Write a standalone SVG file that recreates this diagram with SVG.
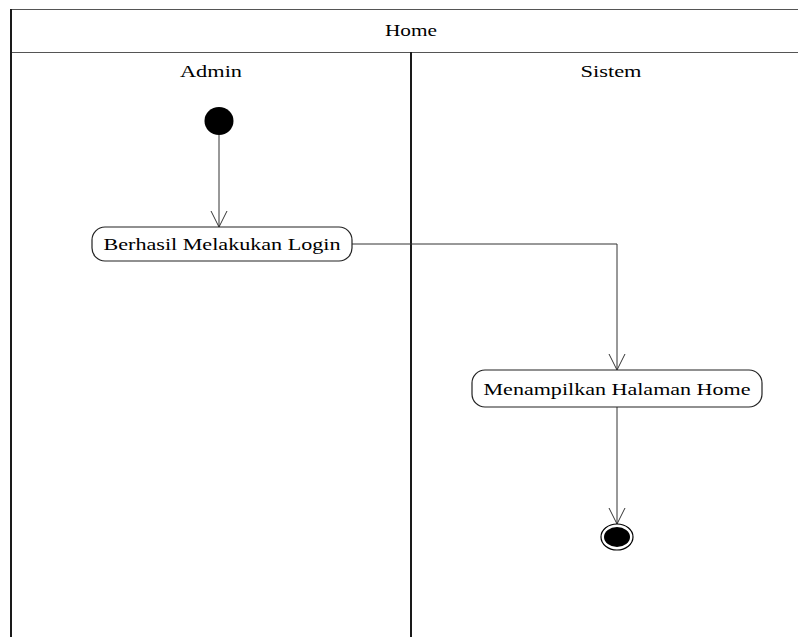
<svg xmlns="http://www.w3.org/2000/svg" width="798" height="637" viewBox="0 0 798 637">
  <style>
    .lbl { font-family: "Liberation Serif", "Times New Roman", serif; font-size: 16px; fill: #000; text-anchor: middle; }
    .frame { stroke: #555; stroke-width: 1.2; fill: none; }
    .lane { stroke: #1a1a1a; stroke-width: 2; fill: none; }
    .act { fill: #fff; stroke: #222; stroke-width: 1.2; }
    .flow { stroke: #333; stroke-width: 1; fill: none; }
  </style>
  <defs>
    <!-- open "V" arrowhead, tip at the end of the path -->
    <marker id="open" markerUnits="userSpaceOnUse" markerWidth="20" markerHeight="20" viewBox="-18 -10 20 20" refX="0" refY="0" orient="auto">
      <path d="M-16,-8 L0,0 L-16,8" fill="none" stroke="#333" stroke-width="1"/>
    </marker>
  </defs>
  <rect width="798" height="637" fill="#fff"/>

  <!-- swimlane frame -->
  <g id="frame">
    <line class="frame" x1="11" y1="9.5" x2="798" y2="9.5"/>
    <line class="frame" x1="11" y1="52.5" x2="798" y2="52.5"/>
    <line class="lane" x1="11" y1="9" x2="11" y2="637"/>
    <line class="lane" x1="411" y1="52" x2="411" y2="637"/>
    <text class="lbl" x="411" y="36" textLength="52" lengthAdjust="spacingAndGlyphs">Home</text>
    <text class="lbl" x="211" y="77" textLength="62" lengthAdjust="spacingAndGlyphs">Admin</text>
    <text class="lbl" x="611" y="77" textLength="61" lengthAdjust="spacingAndGlyphs">Sistem</text>
  </g>

  <!-- connectors -->
  <g id="connectors">
    <line class="flow" x1="219" y1="135" x2="219" y2="227" marker-end="url(#open)"/>
    <polyline class="flow" points="352,244 617,244 617,370" marker-end="url(#open)"/>
    <line class="flow" x1="617" y1="407" x2="617" y2="524" marker-end="url(#open)"/>
  </g>

  <g id="start">
    <ellipse cx="219" cy="121" rx="14.5" ry="14" fill="#000"/>
  </g>

  <g id="login">
    <rect class="act" x="92" y="227" width="260" height="34" rx="13"/>
    <text class="lbl" x="222" y="250" textLength="237" lengthAdjust="spacingAndGlyphs">Berhasil Melakukan Login</text>
  </g>

  <g id="home">
    <rect class="act" x="472" y="370" width="290" height="37" rx="13"/>
    <text class="lbl" x="617" y="395" textLength="267" lengthAdjust="spacingAndGlyphs">Menampilkan Halaman Home</text>
  </g>

  <g id="end">
    <ellipse cx="617" cy="537" rx="16" ry="13" fill="#fff" stroke="#000" stroke-width="1.2"/>
    <ellipse cx="617" cy="537" rx="13" ry="10" fill="#000"/>
  </g>
</svg>
